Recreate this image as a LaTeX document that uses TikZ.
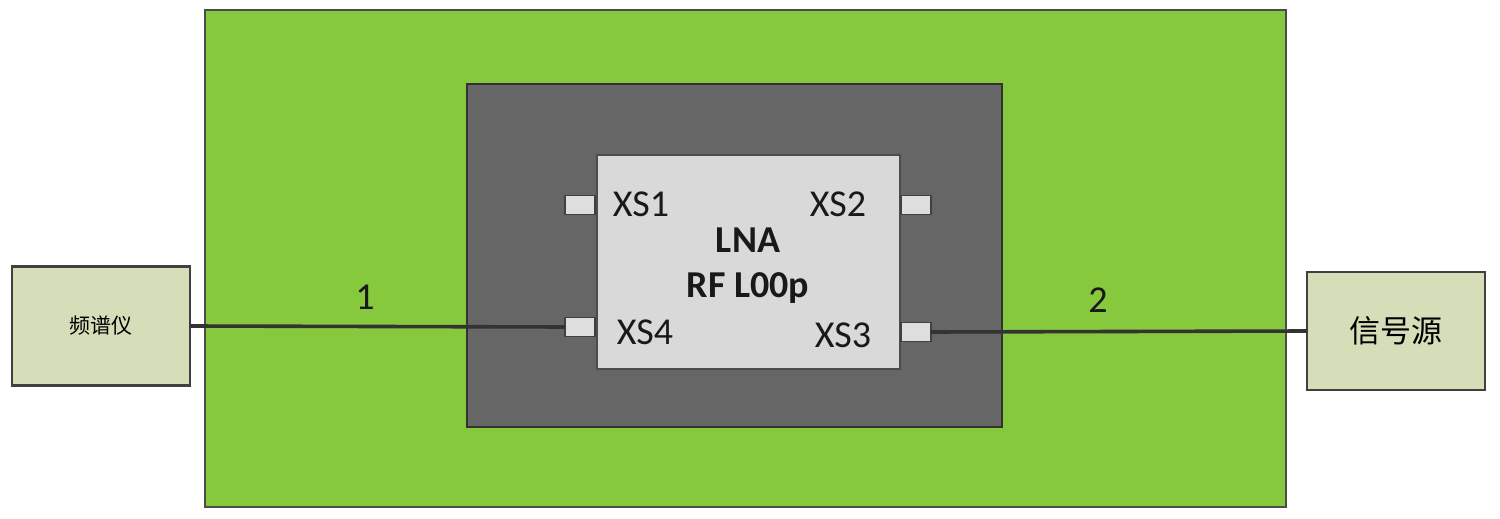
\documentclass[tikz,border=0pt]{standalone}
\usepackage{fontspec}
\setmainfont{Carlito}
\newfontfamily\cjk{Noto Sans CJK SC}
\begin{document}
\begin{tikzpicture}[x=0.5pt,y=-0.5pt,
  box/.style={draw=#1,line width=1.2pt,inner sep=0pt,outer sep=0pt,anchor=north west},
  pad/.style={draw=black!75,fill=black!13,line width=0.8pt,inner sep=0pt,outer sep=0pt,minimum width=15pt,minimum height=9.5pt},
  instr/.style={draw=black!75,fill=beige,line width=1.2pt,inner sep=0pt,outer sep=0pt},
  wire/.style={draw=black!80,line width=1.8pt},
  lbl/.style={font=\fontsize{19}{22}\selectfont,text=black!90}]
\useasboundingbox (0,0) rectangle (1500,519);
\definecolor{grn}{HTML}{86C93C}
\definecolor{dgray}{HTML}{666666}
\definecolor{lgray}{HTML}{D9D9D9}
\definecolor{beige}{HTML}{D6DDB9}
% green board
\node[box=black!70,fill=grn,minimum width=540.5pt,minimum height=248.5pt] (board) at (205,10) {};
% dark gray shield
\node[box=black!80,fill=dgray,minimum width=267.5pt,minimum height=171.5pt] (shield) at (467,84) {};
% LNA module
\node[box=black!70,fill=lgray,minimum width=151.5pt,minimum height=107pt] (lna) at (597,155) {};
% pads
\node[pad] (xs1) at (580,205) {};
\node[pad] (xs2) at (916,205) {};
\node[pad] (xs4) at (580,327) {};
\node[pad] (xs3) at (916,332) {};
% labels
\node[lbl] (lxs1) at (641,204) {XS1};
\node[lbl] (lxs2) at (838,204) {XS2};
\node[lbl] (lxs4) at (645,332) {XS4};
\node[lbl] (lxs3) at (843,335) {XS3};
\node[lbl,font=\fontsize{19}{22}\selectfont\bfseries] (tlna) at (748,240) {LNA};
\node[lbl,font=\fontsize{19}{22}\selectfont\bfseries] (trf) at (748,288) {RF L00p};
% instruments
\node[instr,minimum width=89pt,minimum height=59.5pt] (spec) at (101,326) {\cjk\fontsize{10.5}{12}\selectfont 频谱仪};
\node[instr,minimum width=89pt,minimum height=59pt] (sig) at (1396,331) {\cjk\fontsize{15.5}{18}\selectfont 信号源};
% wires
\draw[wire] (spec.east) -- (xs4.west);
\draw[wire] (xs3.east) -- (sig.west);
\node[lbl] (n1) at (365,297) {1};
\node[lbl] (n2) at (1098,300) {2};
\end{tikzpicture}
\end{document}
